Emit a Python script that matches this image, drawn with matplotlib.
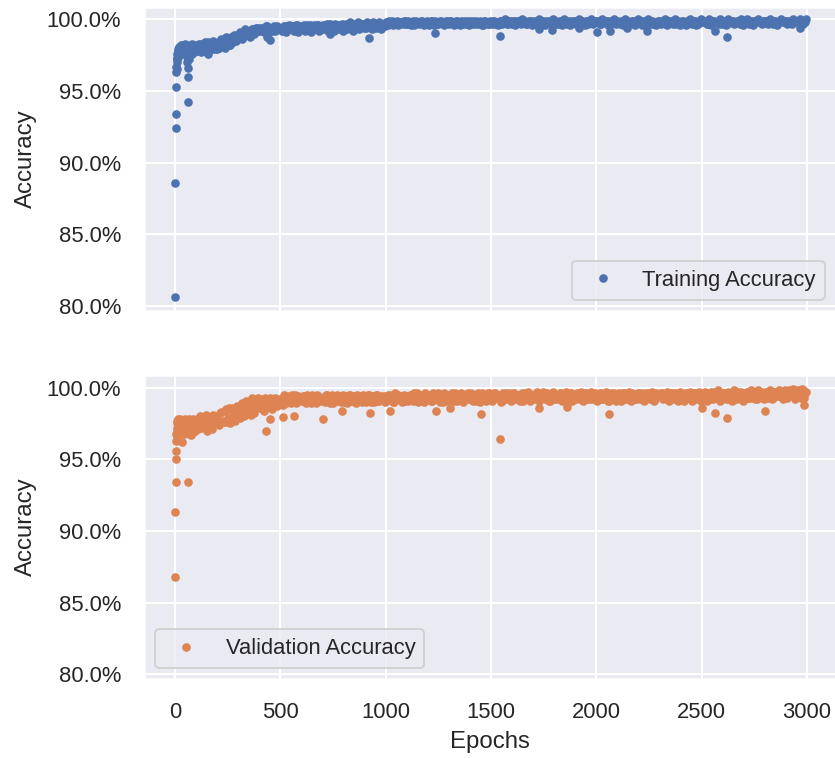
import matplotlib
matplotlib.use("Agg")
import matplotlib.pyplot as plt
import seaborn as sns
from matplotlib.ticker import PercentFormatter

# ---------------- data (accuracy in %) ----------------
train_early_epochs = [0, 1, 2, 3, 4, 5, 6, 7, 8, 9, 10, 11, 12, 13, 14, 15, 16, 17, 18, 20,
                      22, 24, 26, 28, 30, 33, 36, 39, 42, 45, 48, 51, 54, 57, 60, 61, 62, 64,
                      66, 68, 70, 73, 76, 79, 82, 85, 88, 91, 94, 97]
train_early_acc = [80.6, 88.6, 92.4, 93.4, 95.3, 96.3, 96.7, 97.0, 96.5, 97.3, 97.6, 97.2, 97.8,
                   97.4, 97.9, 97.6, 98.0, 97.5, 97.8, 98.1, 97.7, 97.9, 98.2, 97.6, 98.0, 97.8,
                   98.2, 97.7, 98.0, 97.8, 98.3, 97.9, 97.4, 97.0, 96.6, 96.0, 94.2, 97.2, 97.9,
                   97.6, 98.2, 97.8, 98.0, 97.6, 98.3, 97.9, 98.1, 97.7, 98.2, 97.9]

# logged at epochs 100, 110, ..., 2990 (one row per 100 epochs)
train_acc_a = [
    98.1, 97.8, 98.3, 97.9, 98.4, 98.0, 97.8, 98.2, 98.5, 97.9,
    98.3, 98.0, 98.6, 98.2, 98.8, 98.4, 98.2, 98.7, 98.9, 98.5,
    98.7, 99.1, 98.8, 99.3, 98.9, 99.2, 99.0, 99.3, 99.1, 99.4,
    99.2, 99.4, 99.1, 99.5, 99.3, 99.4, 99.2, 99.5, 99.3, 99.4,
    99.4, 99.3, 99.5, 99.4, 99.6, 99.3, 99.5, 99.4, 99.6, 99.5,
    99.4, 99.6, 99.5, 99.3, 99.6, 99.5, 99.6, 99.4, 99.6, 99.5,
    99.6, 99.4, 99.7, 99.5, 99.6, 99.4, 99.7, 99.5, 99.6, 99.7,
    99.5, 99.7, 99.6, 99.8, 99.5, 99.7, 99.6, 99.8, 99.5, 99.7,
    99.6, 99.8, 99.7, 99.5, 99.8, 99.6, 99.7, 99.8, 99.6, 99.7,
    99.8, 99.6, 99.7, 99.9, 99.7, 99.8, 99.6, 99.8, 99.7, 99.9,
    99.7, 99.8, 99.6, 99.9, 99.7, 99.8, 99.7, 99.9, 99.6, 99.8,
    99.8, 99.7, 99.9, 99.6, 99.8, 99.7, 99.9, 99.8, 99.7, 99.9,
    99.7, 99.9, 99.8, 99.7, 99.9, 99.6, 99.8, 99.9, 99.7, 99.8,
    99.9, 99.7, 99.8, 99.9, 99.7, 99.8, 99.6, 99.9, 99.8, 99.7,
    99.8, 99.9, 99.7, 99.8, 99.9, 99.7, 99.9, 99.8, 99.7, 99.9,
    99.7, 99.9, 99.8, 99.9, 99.7, 99.8, 99.9, 99.7, 99.9, 99.8,
    99.9, 99.7, 99.8, 99.9, 99.8, 99.7, 99.9, 99.8, 99.9, 99.7,
    99.8, 99.9, 99.7, 99.9, 99.8, 99.9, 99.7, 99.8, 99.9, 99.8,
    99.9, 99.8, 99.7, 99.9, 99.8, 99.9, 99.7, 99.9, 99.8, 99.9,
    99.8, 99.9, 99.7, 99.9, 99.8, 99.9, 99.8, 99.7, 99.9, 99.8,
    99.9, 99.7, 99.8, 99.9, 99.8, 99.9, 99.7, 99.9, 99.8, 99.9,
    99.8, 99.9, 99.8, 99.7, 99.9, 99.8, 99.9, 99.7, 99.8, 99.9,
    99.9, 99.8, 99.9, 99.7, 99.8, 99.9, 99.8, 99.9, 99.7, 99.8,
    99.8, 99.9, 99.7, 99.9, 99.8, 99.9, 99.8, 99.9, 99.7, 99.9,
    99.9, 99.8, 99.9, 99.7, 99.9, 99.8, 99.9, 99.8, 99.7, 99.9,
    99.8, 99.9, 99.7, 99.9, 99.8, 99.9, 99.8, 99.9, 99.7, 99.8,
    99.9, 99.8, 99.9, 99.8, 99.7, 99.9, 99.8, 99.9, 99.8, 99.9,
    99.8, 99.9, 99.8, 99.9, 99.7, 99.9, 99.8, 99.9, 99.9, 99.8,
    99.9, 99.8, 99.9, 99.7, 99.9, 99.8, 99.9, 99.8, 99.7, 99.8,
]
# logged at epochs 105, 115, ..., 2995
train_acc_b = [
    97.9, 98.3, 97.7, 98.2, 97.8, 98.4, 98.1, 97.9, 98.3, 98.0,
    98.1, 98.5, 98.3, 98.0, 98.6, 98.2, 98.8, 98.4, 98.6, 98.9,
    99.0, 98.6, 99.2, 98.9, 99.1, 98.8, 99.3, 99.0, 99.4, 99.2,
    99.4, 99.2, 99.3, 99.5, 99.1, 99.4, 99.3, 99.2, 99.5, 99.3,
    99.2, 99.5, 99.1, 99.4, 99.3, 99.5, 99.2, 99.6, 99.1, 99.4,
    99.5, 99.2, 99.6, 99.3, 99.1, 99.5, 99.3, 99.6, 99.2, 99.4,
    99.3, 99.6, 99.2, 99.7, 99.4, 99.2, 99.6, 99.3, 99.5, 99.2,
    99.6, 99.3, 99.7, 99.4, 99.2, 99.6, 99.5, 99.3, 99.7, 99.4,
    99.4, 99.7, 99.5, 99.3, 99.7, 99.4, 99.6, 99.3, 99.7, 99.5,
    99.7, 99.9, 99.8, 99.6, 99.8, 99.9, 99.7, 99.8, 99.9, 99.7,
    99.9, 99.7, 99.8, 99.6, 99.9, 99.8, 99.9, 99.7, 99.8, 99.9,
    99.6, 99.9, 99.8, 99.9, 99.7, 99.9, 99.8, 99.6, 99.9, 99.8,
    99.9, 99.8, 99.6, 99.9, 99.8, 99.9, 99.7, 99.8, 99.9, 99.6,
    99.8, 99.9, 99.7, 99.8, 99.9, 99.6, 99.9, 99.8, 99.7, 99.9,
    99.7, 99.9, 99.8, 99.6, 99.9, 99.8, 100.0, 99.7, 99.9, 99.8,
    99.9, 99.6, 99.9, 99.8, 100.0, 99.9, 99.7, 99.8, 99.9, 99.6,
    99.8, 99.9, 100.0, 99.7, 99.9, 99.6, 99.8, 99.9, 99.7, 100.0,
    99.9, 99.7, 99.9, 99.6, 100.0, 99.8, 99.9, 99.6, 99.8, 99.9,
    99.7, 100.0, 99.9, 99.8, 99.6, 99.9, 99.8, 100.0, 99.7, 99.9,
    99.9, 99.7, 100.0, 99.8, 99.9, 99.6, 99.9, 99.8, 100.0, 99.7,
    99.8, 99.9, 99.6, 100.0, 99.9, 99.7, 99.8, 99.9, 99.6, 100.0,
    99.9, 99.6, 99.9, 99.8, 100.0, 99.7, 99.9, 99.8, 99.6, 99.9,
    99.7, 99.9, 100.0, 99.6, 99.9, 99.8, 99.7, 100.0, 99.9, 99.6,
    99.9, 99.8, 99.6, 99.9, 100.0, 99.7, 99.9, 99.6, 99.8, 100.0,
    99.8, 99.9, 99.7, 100.0, 99.6, 99.9, 99.8, 99.9, 100.0, 99.7,
    99.9, 99.6, 100.0, 99.8, 99.9, 99.7, 99.9, 99.8, 100.0, 99.6,
    99.8, 100.0, 99.7, 99.9, 99.6, 99.9, 100.0, 99.8, 99.7, 99.9,
    99.9, 99.7, 100.0, 99.8, 99.9, 99.6, 99.9, 100.0, 99.8, 99.9,
    99.7, 99.9, 99.8, 100.0, 99.9, 99.8, 100.0, 99.9, 99.8, 100.0,
]
train_dip_epochs = [158, 198, 435, 451, 736, 921, 1235, 1543, 1726, 1789, 1916,
                    2002, 2066, 2144, 2240, 2564, 2620, 2968]
train_dip_acc = [97.6, 97.95, 98.75, 98.55, 99.0, 98.7, 99.05, 98.85, 99.35, 99.25, 99.4,
                 99.1, 99.2, 99.4, 99.15, 99.15, 98.8, 99.4]

val_early_epochs = [0, 1, 2, 3, 4, 5, 6, 7, 8, 9, 10, 11, 12, 13, 14, 15, 16, 18, 20, 22,
                    24, 26, 28, 30, 32, 34, 37, 40, 43, 46, 49, 52, 55, 58, 61, 63, 65, 68,
                    71, 74, 77, 80, 83, 86, 89, 92, 95, 98]
val_early_acc = [86.8, 91.3, 93.4, 95.0, 95.6, 96.3, 96.8, 97.2, 96.6, 97.5, 97.0, 97.7, 96.9,
                 97.4, 97.8, 97.1, 97.6, 96.8, 97.5, 97.8, 97.2, 97.6, 96.9, 97.4, 96.2, 97.7,
                 97.1, 97.5, 96.8, 97.8, 97.3, 96.9, 97.6, 97.0, 97.4, 93.4, 97.8, 96.8, 97.3,
                 96.7, 97.6, 97.1, 97.8, 96.9, 97.4, 97.0, 97.7, 97.2]

# logged at epochs 100, 110, ..., 2990
val_acc_a = [
    97.6, 97.1, 98.0, 97.4, 97.8, 97.0, 97.9, 97.3, 98.1, 97.5,
    97.8, 97.4, 98.3, 97.6, 98.5, 97.9, 97.5, 98.6, 98.0, 98.4,
    98.2, 97.9, 98.8, 98.3, 99.0, 98.5, 98.1, 99.2, 98.7, 99.1,
    98.6, 99.2, 98.4, 99.0, 98.8, 99.3, 98.5, 99.1, 98.9, 99.2,
    99.0, 98.8, 99.3, 99.1, 99.4, 98.9, 99.2, 99.5, 99.0, 99.3,
    99.1, 99.4, 98.9, 99.3, 99.0, 99.5, 99.2, 98.9, 99.4, 99.1,
    99.3, 99.0, 99.5, 99.2, 99.4, 98.9, 99.3, 99.5, 99.1, 99.4,
    99.0, 99.4, 99.2, 99.5, 99.1, 99.3, 98.9, 99.4, 99.2, 99.5,
    99.3, 99.1, 99.5, 99.0, 99.4, 99.2, 99.5, 99.1, 99.3, 99.4,
    99.1, 99.5, 99.2, 99.4, 99.0, 99.3, 99.5, 99.2, 99.4, 99.1,
    99.4, 99.2, 99.5, 99.1, 99.3, 99.6, 99.2, 99.4, 99.0, 99.5,
    99.3, 99.5, 99.1, 99.4, 99.2, 99.6, 99.3, 99.0, 99.5, 99.2,
    99.5, 99.2, 99.4, 99.6, 99.1, 99.3, 99.5, 99.2, 99.4, 99.6,
    99.2, 99.5, 99.3, 99.1, 99.6, 99.4, 99.2, 99.5, 99.3, 99.6,
    99.4, 99.2, 99.6, 99.3, 99.5, 99.1, 99.4, 99.6, 99.2, 99.5,
    99.3, 99.6, 99.2, 99.5, 99.4, 99.1, 99.6, 99.3, 99.5, 99.2,
    99.5, 99.3, 99.7, 99.2, 99.4, 99.6, 99.3, 99.5, 99.1, 99.4,
    99.2, 99.5, 99.4, 99.6, 99.3, 99.1, 99.5, 99.4, 99.6, 99.3,
    99.4, 99.6, 99.2, 99.5, 99.3, 99.6, 99.4, 99.2, 99.5, 99.3,
    99.5, 99.3, 99.6, 99.2, 99.4, 99.5, 99.1, 99.6, 99.3, 99.5,
    99.3, 99.5, 99.4, 99.6, 99.2, 99.5, 99.3, 99.6, 99.4, 99.2,
    99.6, 99.3, 99.5, 99.2, 99.4, 99.6, 99.3, 99.5, 99.2, 99.4,
    99.4, 99.6, 99.3, 99.5, 99.2, 99.4, 99.6, 99.3, 99.5, 99.4,
    99.2, 99.5, 99.4, 99.6, 99.3, 99.5, 99.2, 99.6, 99.4, 99.5,
    99.5, 99.3, 99.6, 99.4, 99.2, 99.5, 99.7, 99.3, 99.6, 99.4,
    99.3, 99.6, 99.4, 99.2, 99.6, 99.5, 99.3, 99.7, 99.4, 99.5,
    99.6, 99.4, 99.7, 99.3, 99.5, 99.6, 99.2, 99.7, 99.5, 99.4,
    99.4, 99.7, 99.5, 99.6, 99.3, 99.7, 99.5, 99.4, 99.7, 99.6,
    99.5, 99.7, 99.4, 99.6, 99.8, 99.5, 99.7, 99.3, 99.8, 99.6,
]
# logged at epochs 105, 115, ..., 2995
val_acc_b = [
    97.3, 97.9, 97.2, 97.7, 98.1, 97.4, 97.8, 97.1, 98.0, 97.6,
    97.5, 98.2, 97.7, 98.4, 97.6, 98.6, 97.9, 98.3, 97.7, 98.7,
    98.5, 98.9, 98.0, 99.1, 98.4, 98.8, 99.3, 98.2, 98.9, 99.3,
    99.0, 98.5, 99.3, 98.7, 99.2, 98.6, 99.0, 99.3, 98.7, 99.0,
    99.2, 99.5, 98.9, 99.3, 99.0, 99.5, 99.1, 98.9, 99.4, 99.2,
    99.4, 99.0, 99.5, 99.2, 98.9, 99.4, 99.0, 99.5, 99.2, 99.3,
    99.1, 99.5, 99.2, 98.9, 99.5, 99.3, 99.1, 99.4, 99.0, 99.5,
    99.3, 98.9, 99.5, 99.1, 99.4, 99.0, 99.5, 99.3, 99.0, 99.4,
    99.0, 99.5, 99.2, 99.4, 99.0, 99.5, 99.1, 99.4, 99.2, 99.0,
    99.4, 99.2, 99.5, 99.0, 99.6, 99.2, 99.4, 99.0, 99.5, 99.3,
    99.1, 99.5, 99.3, 99.6, 99.2, 99.0, 99.5, 99.3, 99.6, 99.2,
    99.5, 99.1, 99.6, 99.2, 99.5, 99.0, 99.4, 99.6, 99.1, 99.5,
    99.2, 99.6, 99.1, 99.5, 99.3, 99.6, 99.0, 99.5, 99.2, 99.4,
    99.6, 99.1, 99.5, 99.4, 99.0, 99.6, 99.3, 99.1, 99.6, 99.2,
    99.1, 99.6, 99.3, 99.5, 99.0, 99.6, 99.2, 99.5, 99.6, 99.1,
    99.6, 99.2, 99.5, 99.1, 99.6, 99.3, 99.4, 99.7, 99.1, 99.5,
    99.2, 99.6, 99.1, 99.5, 99.7, 99.2, 99.6, 99.1, 99.5, 99.7,
    99.5, 99.2, 99.6, 99.1, 99.5, 99.7, 99.2, 99.6, 99.1, 99.5,
    99.2, 99.5, 99.7, 99.1, 99.6, 99.2, 99.5, 99.7, 99.2, 99.6,
    99.1, 99.6, 99.2, 99.5, 99.7, 99.1, 99.5, 99.2, 99.6, 99.1,
    99.6, 99.1, 99.6, 99.2, 99.5, 99.7, 99.1, 99.5, 99.2, 99.6,
    99.2, 99.6, 99.1, 99.6, 99.5, 99.2, 99.7, 99.1, 99.6, 99.5,
    99.6, 99.2, 99.5, 99.7, 99.1, 99.6, 99.2, 99.6, 99.1, 99.7,
    99.6, 99.1, 99.6, 99.3, 99.7, 99.1, 99.6, 99.2, 99.7, 99.1,
    99.2, 99.7, 99.1, 99.6, 99.7, 99.2, 99.5, 99.8, 99.1, 99.6,
    99.6, 99.2, 99.7, 99.5, 99.1, 99.8, 99.2, 99.6, 99.7, 99.1,
    99.2, 99.7, 99.3, 99.8, 99.6, 99.2, 99.8, 99.4, 99.7, 99.2,
    99.7, 99.3, 99.8, 99.2, 99.7, 99.4, 99.8, 99.6, 99.2, 99.8,
    99.3, 99.8, 99.6, 99.9, 99.2, 99.8, 99.4, 99.9, 99.3, 99.7,
]
val_dip_epochs = [432, 451, 511, 562, 700, 791, 923, 1021, 1238, 1306, 1451, 1543, 1726,
                  1860, 2062, 2500, 2564, 2620, 2802, 2984]
val_dip_acc = [97.0, 97.8, 97.95, 98.0, 97.8, 98.4, 98.2, 98.4, 98.35, 98.55, 98.15, 96.45,
               98.6, 98.65, 98.15, 98.55, 98.2, 97.85, 98.4, 98.8]

logged_epochs_a = list(range(100, 3000, 10))
logged_epochs_b = list(range(105, 3000, 10))

x_ticks = [0, 500, 1000, 1500, 2000, 2500, 3000]
y_ticks = [80, 85, 90, 95, 100]

# ---------------- style ----------------
sns.set_theme(style="darkgrid")
plt.rcParams["font.family"] = ["Liberation Sans", "DejaVu Sans"]
pal = sns.color_palette("deep")

W, H = 835, 758
fig = plt.figure(figsize=(W / 144, H / 144), dpi=144)

left = 144.3 / W
width = (835.5 - 144.3) / W
ax1 = fig.add_axes([left, 1 - 310.5 / H, width, (310.5 - 6.7) / H])
ax2 = fig.add_axes([left, 1 - 679.0 / H, width, (679.0 - 375.0) / H], sharex=ax1, sharey=ax1)


def series(e_early, a_early, a_a, a_b, e_dip, a_dip):
    pts = (list(zip(e_early, a_early)) + list(zip(logged_epochs_a, a_a))
           + list(zip(logged_epochs_b, a_b)) + list(zip(e_dip, a_dip)))
    pts.sort()
    return [p[0] for p in pts], [p[1] for p in pts]


tx, ty = series(train_early_epochs, train_early_acc, train_acc_a, train_acc_b,
                train_dip_epochs, train_dip_acc)
vx, vy = series(val_early_epochs, val_early_acc, val_acc_a, val_acc_b,
                val_dip_epochs, val_dip_acc)

ax1.plot(tx, ty, ".", color=pal[0], markersize=6.6, label="Training Accuracy")
ax2.plot(vx, vy, ".", color=pal[1], markersize=6.6, label="Validation Accuracy")

ax1.set_xlim(-146.5, 3135)
ax1.set_ylim(79.68, 100.88)

for ax in (ax1, ax2):
    ax.yaxis.set_major_formatter(PercentFormatter(100, decimals=1))
    ax.set_yticks(y_ticks)
    ax.set_xticks(x_ticks)
    ax.set_ylabel("Accuracy", labelpad=5)
    ax.tick_params(axis="both", pad=5.5)

plt.setp(ax1.get_xticklabels(), visible=False)
ax2.set_xlabel("Epochs")

ax1.legend(loc="lower right")
ax2.legend(loc="lower left")

fig.savefig("out.png", dpi=144)
